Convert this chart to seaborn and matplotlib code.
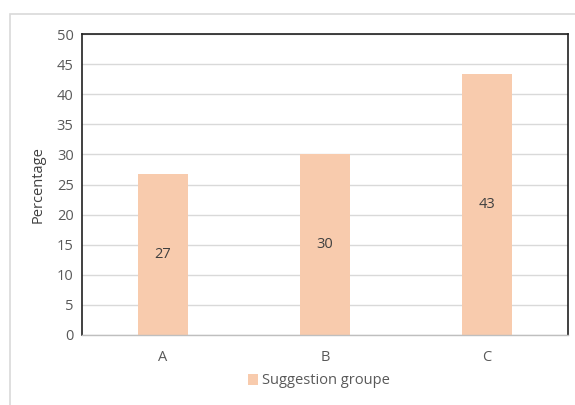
import matplotlib
matplotlib.use("Agg")
import matplotlib.pyplot as plt
import seaborn as sns
import pandas as pd
from matplotlib.patches import Rectangle

categories = ["A", "B", "C"]
values = [26.7, 30.0, 43.3]
labels = ["27", "30", "43"]
series_name = "Suggestion groupe"
y_label = "Percentage"

sns.set_theme(style="white")
plt.rcParams['font.family'] = ['Open Sans', 'DejaVu Sans']

df = pd.DataFrame({"cat": categories, "val": values, "series": series_name})

fig = plt.figure(figsize=(5.75, 4.05), dpi=100)
ax = fig.add_axes([82/575, 1-335/405, (568-82)/575, (335-34)/405])

bar_color = "#F8CBAD"
sns.barplot(data=df, x="cat", y="val", hue="series", palette=[bar_color],
            width=0.31, ax=ax, saturation=1, legend=False, linewidth=0)

ax.set_ylim(0, 50)
ax.set_yticks(range(0, 51, 5))
ax.yaxis.grid(True, color="#D9D9D9", linewidth=1)
ax.set_axisbelow(True)
ax.set_xlabel("")
ax.set_ylabel(y_label, fontsize=10.5, color="#404040", labelpad=8)
ax.tick_params(axis="both", colors="#595959", labelsize=10.5, length=0)
ax.tick_params(axis="x", pad=11)
ax.tick_params(axis="y", pad=6)

for side in ["left", "top", "right"]:
    ax.spines[side].set_color("#202020")
    ax.spines[side].set_linewidth(1.2)
ax.spines["bottom"].set_color("#BFBFBF")
ax.spines["bottom"].set_linewidth(1.0)

for cont in ax.containers:
    ax.bar_label(cont, labels=labels, label_type="center", fontsize=10.5, color="#404040")

handle = Rectangle((0, 0), 1, 1, facecolor=bar_color, edgecolor="none")
fig.legend([handle], [series_name], loc="center", bbox_to_anchor=(0.555, 1-381/405),
           frameon=False, fontsize=10.5, labelcolor="#595959",
           handlelength=0.7, handleheight=0.7, handletextpad=0.3)

border = Rectangle((10/575, -0.2), 1.2, 1-14/405+0.2, transform=fig.transFigure,
                   fill=False, edgecolor="#D9D9D9", linewidth=1.2)
fig.patches.append(border)

fig.savefig("out.png", dpi=100)
